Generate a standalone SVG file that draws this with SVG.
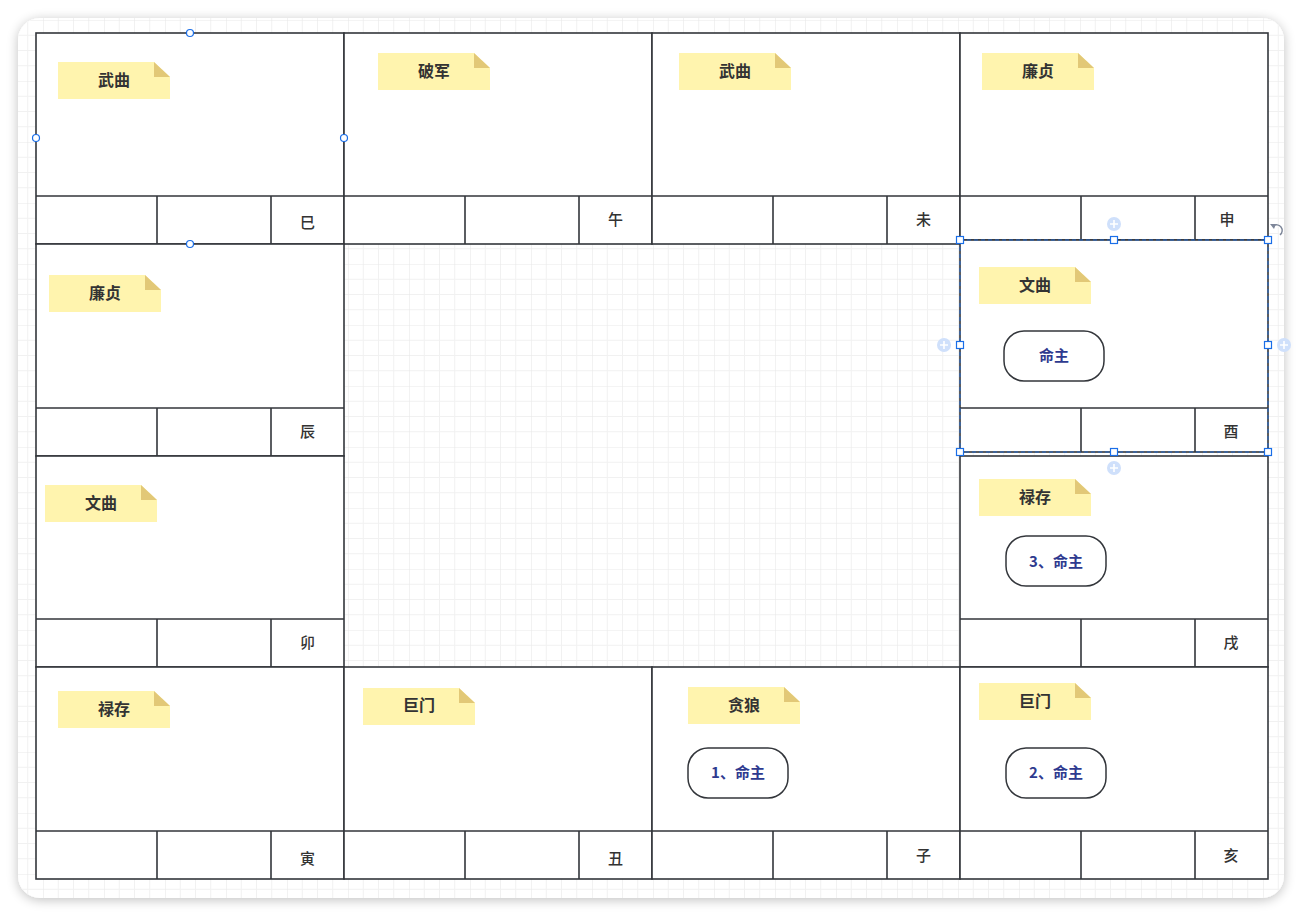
<svg xmlns="http://www.w3.org/2000/svg" width="1302" height="916" viewBox="0 0 1302 916">
<defs>
<pattern id="grid" x="43" y="20" width="61" height="61" patternUnits="userSpaceOnUse">
<path d="M15.25 0V61M30.5 0V61M45.75 0V61M0 15.25H61M0 30.5H61M0 45.75H61" stroke="#f1f1f1" stroke-width="1" fill="none"/>
<path d="M0 0V61M0 0H61" stroke="#e9e9e9" stroke-width="1.2" fill="none"/>
</pattern>
<filter id="shadow" x="-5%" y="-5%" width="110%" height="110%">
<feGaussianBlur in="SourceAlpha" stdDeviation="6"/>
<feOffset dx="0" dy="2"/>
<feComponentTransfer><feFuncA type="linear" slope="0.25"/></feComponentTransfer>
<feMerge><feMergeNode/><feMergeNode in="SourceGraphic"/></feMerge>
</filter>
<g id="note">
<path d="M0 0H96L112 15V37H0Z" fill="#fff4ae"/>
<path d="M96 0L112 15H96Z" fill="#e2c877"/>
</g>
</defs>
<style>
.cell{fill:#fff;stroke:#33363b;stroke-width:1.6}
.ln{stroke:#33363b;stroke-width:1.6;fill:none}
.nt{font-family:"Noto Sans CJK SC","Noto Sans",sans-serif;font-size:16px;font-weight:bold;fill:#333;text-anchor:middle;dominant-baseline:central}
.br{font-family:"Noto Sans CJK SC","Noto Sans",sans-serif;font-size:15px;font-weight:500;fill:#333;text-anchor:middle;dominant-baseline:central}
.pill{fill:#fff;stroke:#33363b;stroke-width:1.5}
.pt{font-family:"Noto Sans CJK SC","Noto Sans",sans-serif;font-size:15px;font-weight:bold;fill:#2e3a8f;text-anchor:middle;dominant-baseline:central}
.hdl{fill:#fff;stroke:#1a6ee8;stroke-width:1.2}
.plus{fill:#cfe0fb}
</style>
<rect width="1302" height="916" fill="#fff"/>
<rect x="18" y="18" width="1266" height="880" rx="22" fill="#fff" filter="url(#shadow)"/>
<rect x="18" y="18" width="1266" height="880" rx="22" fill="url(#grid)"/>

<!-- Row 1 -->
<g id="cell-si"><rect class="cell" x="36" y="33" width="308" height="211"/><path class="ln" d="M36 196H344M157 196V244M271 196V244"/><text class="br" x="307.5" y="221">巳</text><use href="#note" x="58" y="62"/><text class="nt" x="114" y="79">武曲</text></g>
<g id="cell-wu"><rect class="cell" x="344" y="33" width="308" height="211"/><path class="ln" d="M344 196H652M465 196V244M579 196V244"/><text class="br" x="615.5" y="218">午</text><use href="#note" x="378" y="53"/><text class="nt" x="434" y="70">破军</text></g>
<g id="cell-wei"><rect class="cell" x="652" y="33" width="308" height="211"/><path class="ln" d="M652 196H960M773 196V244M887 196V244"/><text class="br" x="923.5" y="218">未</text><use href="#note" x="679" y="53"/><text class="nt" x="735" y="70">武曲</text></g>
<g id="cell-shen"><rect class="cell" x="960" y="33" width="308" height="207"/><path class="ln" d="M960 196H1268M1081 196V240M1195 196V240"/><text class="br" x="1227" y="218">申</text><use href="#note" x="982" y="53"/><text class="nt" x="1038" y="70">廉贞</text></g>

<!-- Row 2 -->
<g id="cell-chen"><rect class="cell" x="36" y="244" width="308" height="212"/><path class="ln" d="M36 408H344M157 408V456M271 408V456"/><text class="br" x="307.5" y="430">辰</text><use href="#note" x="49" y="275"/><text class="nt" x="105" y="292">廉贞</text></g>
<g id="cell-you"><rect class="cell" x="960" y="240" width="308" height="212"/><path class="ln" d="M960 408H1268M1081 408V452M1195 408V452"/><text class="br" x="1231" y="430">酉</text><use href="#note" x="979" y="267"/><text class="nt" x="1035" y="284">文曲</text><rect class="pill" x="1004" y="331" width="100" height="50" rx="20"/><text class="pt" x="1054" y="354">命主</text></g>

<!-- Row 3 -->
<g id="cell-mao"><rect class="cell" x="36" y="456" width="308" height="211"/><path class="ln" d="M36 619H344M157 619V667M271 619V667"/><text class="br" x="307.5" y="641">卯</text><use href="#note" x="45" y="485"/><text class="nt" x="101" y="502">文曲</text></g>
<g id="cell-xu"><rect class="cell" x="960" y="456" width="308" height="211"/><path class="ln" d="M960 619H1268M1081 619V667M1195 619V667"/><text class="br" x="1231" y="641">戌</text><use href="#note" x="979" y="479"/><text class="nt" x="1035" y="496">禄存</text><rect class="pill" x="1006" y="536" width="100" height="50" rx="20"/><text class="pt" x="1056" y="560">3、命主</text></g>

<!-- Row 4 -->
<g id="cell-yin"><rect class="cell" x="36" y="667" width="308" height="212"/><path class="ln" d="M36 831H344M157 831V879M271 831V879"/><text class="br" x="307.5" y="857">寅</text><use href="#note" x="58" y="691"/><text class="nt" x="114" y="708">禄存</text></g>
<g id="cell-chou"><rect class="cell" x="344" y="667" width="308" height="212"/><path class="ln" d="M344 831H652M465 831V879M579 831V879"/><text class="br" x="615.5" y="857">丑</text><use href="#note" x="363" y="688"/><text class="nt" x="419" y="704">巨门</text></g>
<g id="cell-zi"><rect class="cell" x="652" y="667" width="308" height="212"/><path class="ln" d="M652 831H960M773 831V879M887 831V879"/><text class="br" x="923.5" y="854">子</text><use href="#note" x="688" y="687"/><text class="nt" x="744" y="704">贪狼</text><rect class="pill" x="688" y="748" width="100" height="50" rx="20"/><text class="pt" x="738" y="771">1、命主</text></g>
<g id="cell-hai"><rect class="cell" x="960" y="667" width="308" height="212"/><path class="ln" d="M960 831H1268M1081 831V879M1195 831V879"/><text class="br" x="1231" y="854">亥</text><use href="#note" x="979" y="683"/><text class="nt" x="1035" y="700">巨门</text><rect class="pill" x="1006" y="748" width="100" height="50" rx="20"/><text class="pt" x="1056" y="771">2、命主</text></g>

<!-- selection overlays -->
<g id="sel-top-left">
<circle class="hdl" cx="190" cy="33" r="3.5"/><circle class="hdl" cx="36" cy="138" r="3.5"/><circle class="hdl" cx="344" cy="138" r="3.5"/><circle class="hdl" cx="190" cy="244" r="3.5"/>
</g>
<g id="sel-you">
<rect x="960" y="240" width="308" height="212" fill="none" stroke="#1a6ee8" stroke-width="1" stroke-dasharray="4 3" opacity="0.8"/>
<rect class="hdl" x="956.5" y="236.5" width="7" height="7"/><rect class="hdl" x="1110.5" y="236.5" width="7" height="7"/><rect class="hdl" x="1264.5" y="236.5" width="7" height="7"/>
<rect class="hdl" x="956.5" y="341.5" width="7" height="7"/><rect class="hdl" x="1264.5" y="341.5" width="7" height="7"/>
<rect class="hdl" x="956.5" y="448.5" width="7" height="7"/><rect class="hdl" x="1110.5" y="448.5" width="7" height="7"/><rect class="hdl" x="1264.5" y="448.5" width="7" height="7"/>
<g><circle class="plus" cx="1114" cy="224" r="7"/><path d="M1110 224H1118M1114 220V228" stroke="#fff" stroke-width="1.6"/></g>
<g><circle class="plus" cx="944" cy="345" r="7"/><path d="M940 345H948M944 341V349" stroke="#fff" stroke-width="1.6"/></g>
<g><circle class="plus" cx="1284" cy="345" r="7"/><path d="M1280 345H1288M1284 341V349" stroke="#fff" stroke-width="1.6"/></g>
<g><circle class="plus" cx="1114" cy="468" r="7"/><path d="M1110 468H1118M1114 464V472" stroke="#fff" stroke-width="1.6"/></g>
<path d="M1273 226A5 5 0 1 1 1280 235" fill="none" stroke="#7d8699" stroke-width="1.4"/><path d="M1270 224L1274 229L1276 224Z" fill="#7d8699"/>
</g>
<g id="connectors"></g>
</svg>
